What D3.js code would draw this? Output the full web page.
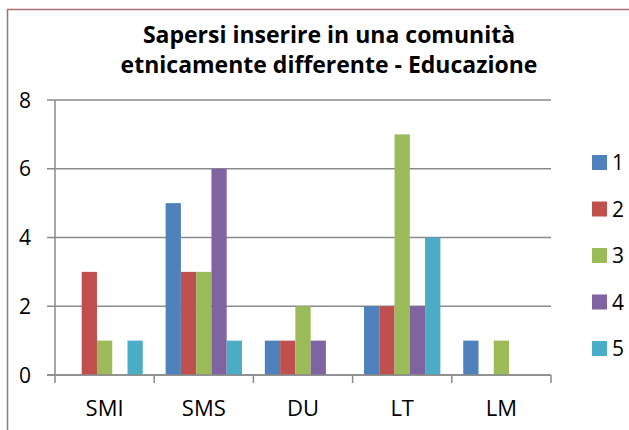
<!DOCTYPE html>
<html>
<head>
<meta charset="utf-8">
<script src="https://cdn.jsdelivr.net/npm/d3@7"></script>
<style>
  body { margin: 0; background: #fff; }
  svg { display: block; }
  text { font-family: "Open Sans", sans-serif; fill: #000; }
</style>
</head>
<body>
<div class="canvas"></div>
<script>
// data
const categories = ['SMI', 'SMS', 'DU', 'LT', 'LM'];
const seriesNames = ['1', '2', '3', '4', '5'];
const s1 = [0, 5, 1, 2, 1];
const s2 = [3, 3, 1, 2, 0];
const s3 = [1, 3, 2, 7, 1];
const s4 = [0, 6, 1, 2, 0];
const s5 = [1, 1, 0, 4, 0];
const yTicks = [0, 2, 4, 6, 8];
const titleLines = ['Sapersi inserire in una comunità', 'etnicamente differente - Educazione'];

const colors = ['#4f81bd', '#c0504d', '#9bbb59', '#8064a2', '#4bacc6'];
const series = [s1, s2, s3, s4, s5];

// svg
const svg = d3.select('.canvas')
    .append('svg')
    .attr('width', 629)
    .attr('height', 430);

// chart border (left and top edges visible)
svg.append('path')
    .attr('d', 'M7.5,430 V9.5 H629')
    .attr('fill', 'none')
    .attr('stroke', '#a8706f')
    .attr('stroke-width', 1.5);

// plot area
const plot = { left: 55, right: 551, top: 100, bottom: 375 };

// scales
const x0 = d3.scaleBand()
    .domain(categories)
    .range([plot.left, plot.right]);

const x1 = d3.scaleBand()
    .domain(seriesNames)
    .range([0, x0.bandwidth()])
    .paddingInner(0)
    .paddingOuter(0.75);

const y = d3.scaleLinear()
    .domain([0, 8])
    .range([plot.bottom, plot.top]);

// gridlines + y ticks
const grid = svg.append('g');
grid.selectAll('line')
    .data(yTicks)
    .enter()
    .append('line')
    .attr('x1', plot.left - 8)
    .attr('x2', plot.right)
    .attr('y1', d => y(d))
    .attr('y2', d => y(d))
    .attr('stroke', '#8a8a8a')
    .attr('stroke-width', 1.5);

// y axis line
svg.append('line')
    .attr('x1', plot.left).attr('x2', plot.left)
    .attr('y1', plot.top).attr('y2', plot.bottom)
    .attr('stroke', '#8a8a8a')
    .attr('stroke-width', 1.5);

// y labels
svg.append('g').selectAll('text')
    .data(yTicks)
    .enter()
    .append('text')
    .attr('x', 31)
    .attr('y', d => y(d))
    .attr('dy', '0.36em')
    .attr('text-anchor', 'end')
    .style('font-size', '21px')
    .text(d => d);

// bars
const groups = svg.append('g').selectAll('g')
    .data(categories)
    .enter()
    .append('g')
    .attr('transform', d => `translate(${x0(d)},0)`);

groups.selectAll('rect')
    .data((d, i) => series.map((s, j) => ({ key: seriesNames[j], value: s[i], color: colors[j] })))
    .enter()
    .append('rect')
    .attr('x', d => x1(d.key))
    .attr('width', x1.bandwidth())
    .attr('y', d => y(d.value))
    .attr('height', d => y(0) - y(d.value))
    .attr('fill', d => d.color);

// x axis
const xAxis = svg.append('g');
const bounds = categories.map(c => x0(c)).concat([plot.right]);
xAxis.append('line')
    .attr('x1', plot.left - 8).attr('x2', plot.right)
    .attr('y1', plot.bottom).attr('y2', plot.bottom)
    .attr('stroke', '#8a8a8a')
    .attr('stroke-width', 1.5);
xAxis.selectAll('.tick')
    .data(bounds)
    .enter()
    .append('line')
    .attr('class', 'tick')
    .attr('x1', d => d).attr('x2', d => d)
    .attr('y1', plot.bottom).attr('y2', plot.bottom + 8)
    .attr('stroke', '#8a8a8a')
    .attr('stroke-width', 1.5);
xAxis.selectAll('text')
    .data(categories)
    .enter()
    .append('text')
    .attr('x', d => x0(d) + x0.bandwidth() / 2)
    .attr('y', 416)
    .attr('text-anchor', 'middle')
    .style('font-size', '22px')
    .text(d => d);

// title
svg.append('g').selectAll('text')
    .data(titleLines)
    .enter()
    .append('text')
    .attr('x', 329)
    .attr('y', (d, i) => 43 + i * 29.5)
    .attr('text-anchor', 'middle')
    .style('font-size', '23px')
    .style('font-weight', 'bold')
    .text(d => d);

// legend
const legend = svg.append('g').selectAll('g')
    .data(seriesNames)
    .enter()
    .append('g')
    .attr('transform', (d, i) => `translate(592,${162.5 + i * 46.5})`);
legend.append('rect')
    .attr('x', 0).attr('y', -7.5)
    .attr('width', 15).attr('height', 15)
    .attr('fill', (d, i) => colors[i]);
legend.append('text')
    .attr('x', 20)
    .attr('y', 0)
    .attr('dy', '0.36em')
    .style('font-size', '21px')
    .text(d => d);
</script>
</body>
</html>
